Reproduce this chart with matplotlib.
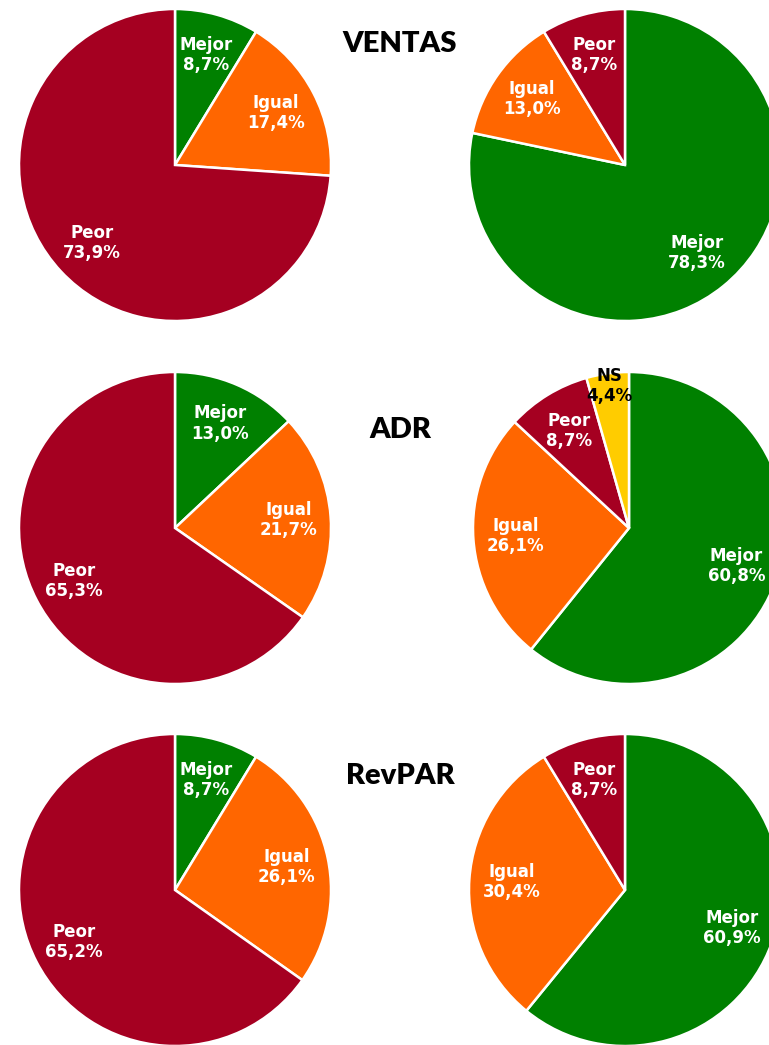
import matplotlib
matplotlib.use("Agg")
import matplotlib.pyplot as plt
import numpy as np

plt.rcParams["font.family"] = ["DejaVu Sans"]
plt.rcParams["font.weight"] = "bold"

# Data: share of respondents per answer, clockwise from 12 o'clock
titles = ["VENTAS", "ADR", "RevPAR"]

left_labels = ["Mejor", "Igual", "Peor"]
left_values = [
    [8.7, 17.4, 73.9],
    [13.0, 21.7, 65.3],
    [8.7, 26.1, 65.2],
]

right_labels = [
    ["Mejor", "Igual", "Peor"],
    ["Mejor", "Igual", "Peor", "NS"],
    ["Mejor", "Igual", "Peor"],
]
right_values = [
    [78.3, 13.0, 8.7],
    [60.8, 26.1, 8.7, 4.4],
    [60.9, 30.4, 8.7],
]

COLORS = {"Mejor": "#008000", "Igual": "#FF6600", "Peor": "#A50021", "NS": "#FFCC00"}
TEXT_COLORS = {"NS": "black"}
LABEL_DIST = {"NS": 0.92}

W, H = 769, 1045
R = 156
fig = plt.figure(figsize=(W / 100, H / 100), dpi=100)


def pie_axes(cx, cy):
    return fig.add_axes([(cx - R) / W, (H - cy - R) / H, 2 * R / W, 2 * R / H])


def draw_pie(ax, labels, values):
    colors = [COLORS[l] for l in labels]
    wedges, _ = ax.pie(values, colors=colors, startangle=90, counterclock=False,
                       radius=1.0, wedgeprops=dict(edgecolor="white", linewidth=1.8))
    for w, lab, v in zip(wedges, labels, values):
        ang = np.deg2rad((w.theta1 + w.theta2) / 2)
        d = LABEL_DIST.get(lab, 0.73)
        ax.text(d * np.cos(ang), d * np.sin(ang),
                f"{lab}\n{v:.1f}%".replace(".", ","),
                ha="center", va="center", fontsize=12, fontweight="bold",
                color=TEXT_COLORS.get(lab, "white"), linespacing=1.15)
    ax.set_xlim(-1, 1)
    ax.set_ylim(-1, 1)
    ax.set_aspect("equal")
    ax.axis("off")


row_y = [165, 528, 890]
right_x = [625, 629, 625]
title_y = [44, 430, 776]

for i in range(3):
    draw_pie(pie_axes(175, row_y[i]), left_labels, left_values[i])
    draw_pie(pie_axes(right_x[i], row_y[i]), right_labels[i], right_values[i])
    fig.text(400 / W, 1 - title_y[i] / H, titles[i], ha="center", va="center",
             fontsize=21, fontweight="heavy", color="black", family=["Lato", "DejaVu Sans"])

fig.savefig("out.png", dpi=100, facecolor="white")
